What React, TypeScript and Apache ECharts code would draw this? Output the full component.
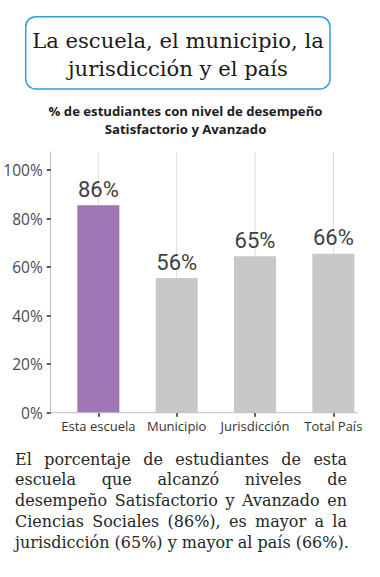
import React, { useEffect, useRef } from 'react';
import * as echarts from 'echarts';

const categories = ['Esta escuela', 'Municipio', 'Jurisdicción', 'Total País'];
const values = [85.5, 55.5, 64.5, 65.5];
const barColors = ['#9e77b4', '#c8c8c8', '#c8c8c8', '#c8c8c8'];
const yTicks = [0, 20, 40, 60, 80, 100];
const yMax = 107.5;
const titleLines = ['La escuela, el municipio, la', 'jurisdicción y el país'];
const subtitleLines = ['% de estudiantes con nivel de desempeño', 'Satisfactorio y Avanzado'];
const paragraphLines = [
  'El porcentaje de estudiantes de esta',
  'escuela que alcanzó niveles de',
  'desempeño Satisfactorio y Avanzado en',
  'Ciencias Sociales (86%), es mayor a la',
  'jurisdicción (65%) y mayor al país (66%).',
];

const SERIF = '"DejaVu Serif", "Liberation Serif", serif';
const SANS = '"Open Sans", sans-serif';

let ctx: CanvasRenderingContext2D | null = null;
function measure(text: string, size: number, family: string, weight = 'normal') {
  if (!ctx) ctx = document.createElement('canvas').getContext('2d');
  ctx!.font = `${weight} ${size}px ${family}`;
  return ctx!.measureText(text).width;
}

function fitSize(text: string, target: number, family: string, weight = 'normal') {
  const w = measure(text, 100, family, weight);
  return (100 * target) / w;
}

export default function App() {
  const ref = useRef<HTMLDivElement>(null);
  useEffect(() => {
    if (!ref.current) return;
    const chart = echarts.init(ref.current, undefined, { renderer: 'svg' });

    const titleSize = Math.min(22, fitSize(titleLines[0], 292, SERIF));
    const subSize = Math.min(13.5, fitSize(subtitleLines[0], 274, SANS, 'bold'));
    const paraSize = Math.min(
      fitSize(paragraphLines[2], 332, SERIF),
      fitSize(paragraphLines[4], 334, SERIF)
    );

    const graphics: any[] = [
      {
        type: 'rect',
        shape: { x: 25.7, y: 16.7, width: 304.3, height: 72.3, r: 10 },
        style: { fill: '#ffffff', stroke: '#2d9fd9', lineWidth: 1.5 },
      },
      ...titleLines.map((t, i) => ({
        type: 'text',
        x: 178,
        y: 40 + i * 28.5,
        style: {
          text: t,
          fontFamily: SERIF,
          fontSize: titleSize,
          fill: '#1a1a1a',
          align: 'center',
          verticalAlign: 'middle',
        },
      })),
      ...subtitleLines.map((t, i) => ({
        type: 'text',
        x: 185.5,
        y: 110.5 + i * 18.5,
        style: {
          text: t,
          fontFamily: SANS,
          fontWeight: 'bold',
          fontSize: subSize,
          fill: '#1c1c24',
          align: 'center',
          verticalAlign: 'middle',
        },
      })),
      {
        type: 'line',
        shape: { x1: 50.7, y1: 412.7, x2: 358, y2: 412.7 },
        style: { stroke: '#bfbfbf', lineWidth: 1 },
        z: 10,
      },
    ];

    const pLeft = 15;
    const pRight = 347;
    paragraphLines.forEach((line, li) => {
      const y = 459 + li * 20.8;
      const justify = li < paragraphLines.length - 1;
      const words = line.split(' ');
      if (!justify) {
        graphics.push({
          type: 'text',
          x: pLeft,
          y,
          style: { text: line, fontFamily: SERIF, fontSize: paraSize, fill: '#262626', align: 'left', verticalAlign: 'middle' },
        });
        return;
      }
      const widths = words.map((w) => measure(w, paraSize, SERIF));
      const total = widths.reduce((a, b) => a + b, 0);
      const gap = (pRight - pLeft - total) / (words.length - 1);
      let x = pLeft;
      words.forEach((w, wi) => {
        graphics.push({
          type: 'text',
          x,
          y,
          style: { text: w, fontFamily: SERIF, fontSize: paraSize, fill: '#262626', align: 'left', verticalAlign: 'middle' },
        });
        x += widths[wi] + gap;
      });
    });

    chart.setOption({
      animation: false,
      backgroundColor: '#ffffff',
      grid: { left: 59.2, right: 7.5, top: 152, bottom: 164.3, containLabel: false },
      xAxis: [
        {
          type: 'category',
          data: categories,
          axisLine: { show: false },
          axisTick: { show: true, alignWithLabel: true, length: 4, lineStyle: { color: '#262626', width: 1.5 } },
          axisLabel: { interval: 0, margin: 7, fontFamily: SANS, fontSize: 13, color: '#333333' },
          splitLine: { show: false },
        },
        {
          type: 'category',
          data: categories,
          show: false,
        },
      ],
      yAxis: {
        type: 'value',
        min: 0,
        max: yMax,
        offset: 8.5,
        axisLine: { show: true, lineStyle: { color: '#bfbfbf', width: 1 } },
        axisTick: { show: true, length: 4, customValues: yTicks, lineStyle: { color: '#262626', width: 1.5 } },
        axisLabel: {
          customValues: yTicks,
          formatter: '{value}%',
          margin: 8,
          fontFamily: SANS,
          fontSize: 15.5,
          color: '#4a4a52',
        },
        splitLine: { show: false },
      },
      series: [
        {
          type: 'bar',
          xAxisIndex: 1,
          data: categories.map(() => yMax),
          barWidth: 1,
          itemStyle: { color: '#dcdcdc' },
          silent: true,
          z: 1,
        },
        {
          type: 'bar',
          xAxisIndex: 0,
          data: values.map((v, i) => ({ value: v, itemStyle: { color: barColors[i] } })),
          barWidth: 42,
          z: 2,
          label: {
            show: true,
            position: 'top',
            distance: 5,
            fontFamily: 'Roboto, sans-serif',
            fontSize: 22,
            color: '#404040',
            formatter: (p: any) => `${Math.round(p.value)}%`,
          },
        },
      ],
      graphic: graphics,
    });

    return () => chart.dispose();
  }, []);

  return (
    <div
      ref={ref}
      style={{ position: 'absolute', left: 0, top: 0, width: 380, height: 577 }}
    />
  );
}
